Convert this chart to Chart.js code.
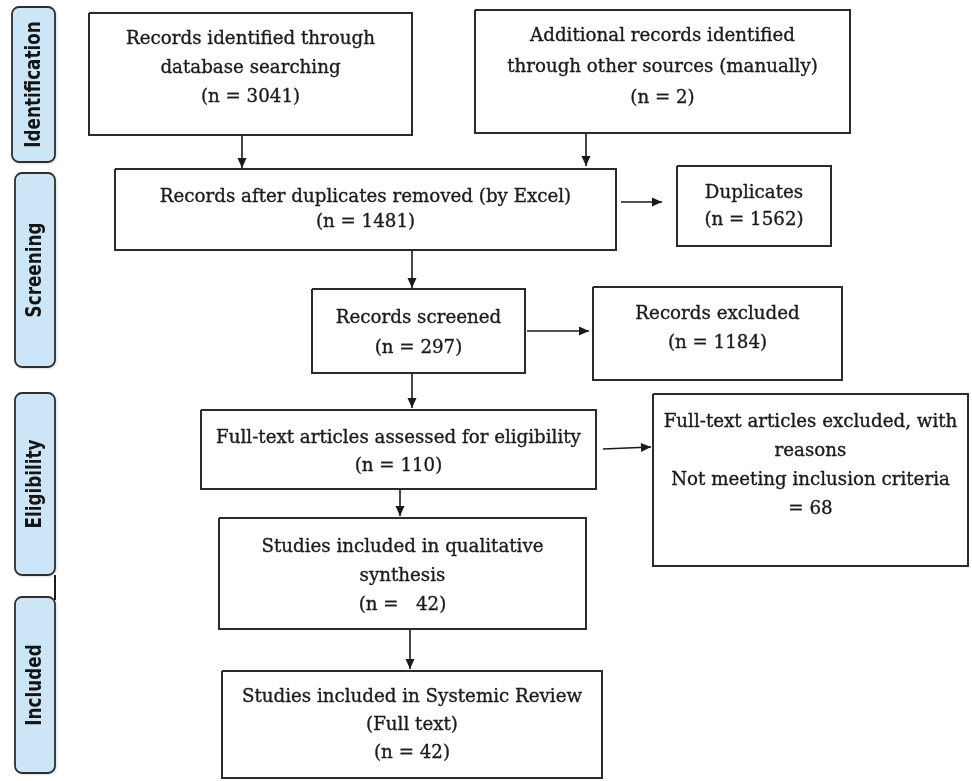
<!DOCTYPE html>
<html>
<head>
<meta charset="utf-8">
<script src="https://cdn.jsdelivr.net/npm/chart.js@4.4.1/dist/chart.umd.min.js"></script>
<style>
  html, body { margin: 0; padding: 0; background: #ffffff; }
  #wrap { width: 972px; height: 781px; position: relative; }
</style>
</head>
<body>
<div id="wrap"><canvas id="fluxo"></canvas></div>
<script>
// dados do fluxograma PRISMA
const fases = ["Identification", "Screening", "Eligibility", "Included"];

const titulos = [
    ["Records identified through", "database searching"],
    ["Additional records identified", "through other sources (manually)"],
    ["Records after duplicates removed (by Excel)"],
    ["Duplicates"],
    ["Records screened"],
    ["Records excluded"],
    ["Full-text articles assessed for eligibility"],
    ["Full-text articles excluded, with", "reasons", "Not meeting inclusion criteria"],
    ["Studies included in qualitative", "synthesis"],
    ["Studies included in Systemic Review", "(Full text)"]
];

const contagens = [3041, 2, 1481, 1562, 297, 1184, 110, 68, 42, 42];

// formato do rótulo da contagem em cada caixa
const formatoContagem = ["(n = #)", "(n = #)", "(n = #)", "(n = #)", "(n = #)",
    "(n = #)", "(n = #)", "= #", "(n =   #)", "(n = #)"];

// ligações entre caixas: [origem, destino]
const ligacoes = [[0, 2], [1, 2], [2, 3], [2, 4], [4, 5], [4, 6], [6, 7], [6, 8], [8, 9]];

// ---- layout (pixels da imagem) ----
const caixas = [
    { x0: 89,  y0: 13,  x1: 412, y1: 135, linha1: 39,  passo: 29 },
    { x0: 475, y0: 10,  x1: 850, y1: 133, linha1: 36,  passo: 31 },
    { x0: 115, y0: 169, x1: 616, y1: 250, linha1: 197, passo: 25 },
    { x0: 677, y0: 166, x1: 831, y1: 246, linha1: 193, passo: 27 },
    { x0: 312, y0: 289, x1: 525, y1: 373, linha1: 318, passo: 30 },
    { x0: 593, y0: 287, x1: 842, y1: 380, linha1: 314, passo: 29 },
    { x0: 201, y0: 410, x1: 596, y1: 489, linha1: 438, passo: 28 },
    { x0: 653, y0: 394, x1: 968, y1: 566, linha1: 422, passo: 29 },
    { x0: 219, y0: 518, x1: 586, y1: 629, linha1: 547, passo: 29 },
    { x0: 222, y0: 671, x1: 602, y1: 778, linha1: 697, passo: 28 }
];

const setas = [
    { de: [242, 136], para: [242, 168] },
    { de: [586, 134], para: [586, 166] },
    { de: [621, 202], para: [662, 202] },
    { de: [412, 251], para: [412, 288] },
    { de: [527, 331], para: [589, 331] },
    { de: [412, 374], para: [412, 408] },
    { de: [603, 449], para: [651, 447] },
    { de: [400, 490], para: [400, 516] },
    { de: [410, 630], para: [410, 669] }
];

const faixas = [
    { x0: 12, y0: 7,   x1: 55, y1: 162 },
    { x0: 15, y0: 173, x1: 55, y1: 367 },
    { x0: 15, y0: 393, x1: 55, y1: 575 },
    { x0: 15, y0: 597, x1: 55, y1: 773 }
];

const familiaTexto = "'DejaVu Serif', 'Liberation Serif', serif";
// largura de "Full-text articles assessed for eligibility" na imagem
const larguraRef = 365;
const fonteFase = "bold 21px 'DejaVu Sans', sans-serif";

let datasets = [];

// contornos das caixas
caixas.forEach(function(c) {
    datasets.push({
        data: [
            { x: c.x0, y: c.y0 }, { x: c.x1, y: c.y0 },
            { x: c.x1, y: c.y1 }, { x: c.x0, y: c.y1 }, { x: c.x0, y: c.y0 }
        ],
        borderColor: "#2b2b2b",
        borderWidth: 2,
        pointRadius: 0,
        showLine: true,
        fill: false,
        tension: 0
    });
});

// hastes das setas
ligacoes.forEach(function(l, i) {
    let s = setas[i];
    datasets.push({
        data: [{ x: s.de[0], y: s.de[1] }, { x: s.para[0], y: s.para[1] }],
        borderColor: "#1a1a1a",
        borderWidth: 1.6,
        pointRadius: 0,
        showLine: true,
        fill: false
    });
});

// pequeno conector entre Eligibility e Included
datasets.push({
    data: [{ x: 55, y: 575 }, { x: 55, y: 600 }],
    borderColor: "#1a1a1a",
    borderWidth: 2,
    pointRadius: 0,
    showLine: true
});

const desenhoExtra = {
    id: "desenhoExtra",

    beforeDatasetsDraw(chart) {
        const ctx = chart.ctx;
        const sx = chart.scales.x;
        const sy = chart.scales.y;

        // faixas laterais das fases
        faixas.forEach(function(f, i) {
            let x0 = sx.getPixelForValue(f.x0);
            let x1 = sx.getPixelForValue(f.x1);
            let y0 = sy.getPixelForValue(f.y0);
            let y1 = sy.getPixelForValue(f.y1);

            ctx.save();
            ctx.shadowColor = "rgba(0,0,0,0.25)";
            ctx.shadowBlur = 3;
            ctx.shadowOffsetX = 1;
            ctx.shadowOffsetY = 1;
            ctx.beginPath();
            ctx.roundRect(x0, y0, x1 - x0, y1 - y0, 7);
            ctx.fillStyle = "#cde6f7";
            ctx.fill();
            ctx.restore();

            ctx.save();
            ctx.beginPath();
            ctx.roundRect(x0, y0, x1 - x0, y1 - y0, 7);
            ctx.lineWidth = 1.8;
            ctx.strokeStyle = "#2e2e2e";
            ctx.stroke();

            ctx.translate((x0 + x1) / 2 + 1, (y0 + y1) / 2);
            ctx.rotate(-Math.PI / 2);
            // fonte estreita: comprime no sentido do texto
            ctx.scale(0.8, 1);
            ctx.fillStyle = "#141414";
            ctx.font = fonteFase;
            ctx.textAlign = "center";
            ctx.textBaseline = "middle";
            ctx.fillText(fases[i], 0, 0);
            ctx.restore();
        });
    },

    afterDatasetsDraw(chart) {
        const ctx = chart.ctx;
        const sx = chart.scales.x;
        const sy = chart.scales.y;

        // pontas das setas
        setas.forEach(function(s) {
            let ax = sx.getPixelForValue(s.de[0]);
            let ay = sy.getPixelForValue(s.de[1]);
            let bx = sx.getPixelForValue(s.para[0]);
            let by = sy.getPixelForValue(s.para[1]);
            let ang = Math.atan2(by - ay, bx - ax);

            ctx.save();
            ctx.translate(bx, by);
            ctx.rotate(ang);
            ctx.beginPath();
            ctx.moveTo(0, 0);
            ctx.lineTo(-10, -4.5);
            ctx.lineTo(-10, 4.5);
            ctx.closePath();
            ctx.fillStyle = "#1a1a1a";
            ctx.fill();
            ctx.restore();
        });

        // tamanho da fonte ajustado à largura de referência
        ctx.save();
        ctx.font = "20px " + familiaTexto;
        let w = ctx.measureText(titulos[6][0]).width;
        let tamanho = 20 * larguraRef / w;

        ctx.font = tamanho.toFixed(2) + "px " + familiaTexto;
        ctx.fillStyle = "#1b1b1b";
        ctx.strokeStyle = "#1b1b1b";
        ctx.lineWidth = 0.35;
        ctx.textAlign = "center";
        ctx.textBaseline = "middle";

        caixas.forEach(function(c, i) {
            let linhas = titulos[i].slice();
            linhas.push(formatoContagem[i].replace("#", contagens[i]));

            let cx = sx.getPixelForValue((c.x0 + c.x1) / 2);

            linhas.forEach(function(txt, k) {
                let cy = sy.getPixelForValue(c.linha1 + k * c.passo);
                ctx.fillText(txt, cx, cy);
                ctx.strokeText(txt, cx, cy);
            });
        });
        ctx.restore();
    }
};

new Chart(document.getElementById("fluxo"), {

    type: "scatter",

    data: {
        datasets: datasets
    },

    options: {
        responsive: true,
        maintainAspectRatio: false,
        animation: false,
        layout: { padding: 0 },

        plugins: {
            legend: { display: false },
            tooltip: { enabled: false }
        },

        scales: {
            x: {
                type: "linear",
                min: 0,
                max: 972,
                display: false
            },
            y: {
                type: "linear",
                min: 0,
                max: 781,
                reverse: true,
                display: false
            }
        }
    },

    plugins: [desenhoExtra]
});
</script>
</body>
</html>
